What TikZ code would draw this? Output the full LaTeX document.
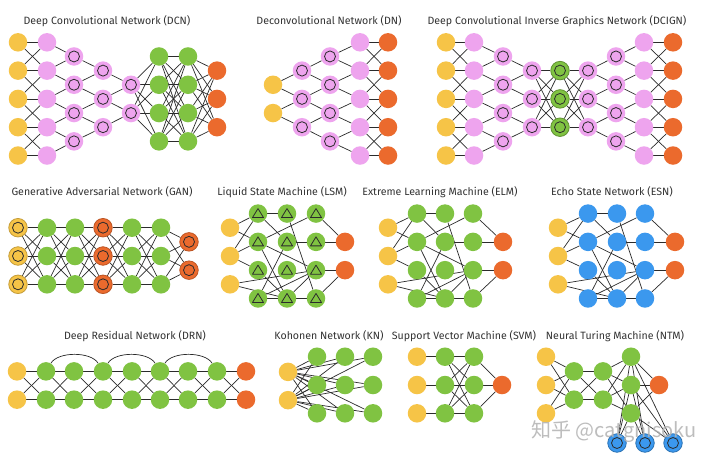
\documentclass[tikz,border=0pt]{standalone}
\usepackage{fontspec}
\setmainfont{Fira Sans}
\newfontfamily\cjkfont{Noto Sans CJK SC}
\usetikzlibrary{backgrounds}
\definecolor{nnyel}{HTML}{F6C447}
\definecolor{nnpnk}{HTML}{EEA4EE}
\definecolor{nngrn}{HTML}{80C342}
\definecolor{nnorg}{HTML}{EB6A2D}
\definecolor{nnblu}{HTML}{3B98EE}
\definecolor{nnedge}{HTML}{2B2B2B}
\tikzset{
  unit/.style={circle,minimum size=18.5pt,inner sep=0pt,draw=none},
  yel/.style={unit,fill=nnyel},
  pnk/.style={unit,fill=nnpnk},
  grn/.style={unit,fill=nngrn},
  org/.style={unit,fill=nnorg},
  blu/.style={unit,fill=nnblu},
  ring/.style={path picture={\draw[nnedge,line width=0.8pt] (path picture bounding box.center) circle (5.5pt);}},
  tri/.style={path picture={\draw[nnedge,line width=0.8pt,line join=round]
    ([shift={(0pt,5pt)}]path picture bounding box.center) -- ([shift={(-5.5pt,-4pt)}]path picture bounding box.center)
    -- ([shift={(5.5pt,-4pt)}]path picture bounding box.center) -- cycle;}},
  conv/.style={pnk,ring},
  edge/.style={nnedge,line width=0.7pt},
  title/.style={font=\fontsize{10.6}{13}\selectfont,text=black!80}
}
% name, x, count, style, middle y
\newcommand\nncol[5]{\foreach \k in {1,...,#3} \node[#4] (#1-\k) at (#2,{#5+28.3*(\k-(#3+1)/2)}) {};}
\newcommand\nnfull[4]{\foreach \i in {1,...,#2} \foreach \j in {1,...,#4} \draw[edge] (#1-\i) -- (#3-\j);}
\newcommand\nncross[3]{\foreach \i in {1,...,#3} \draw[edge] (#1-\i) -- (#2-\i);
  \foreach \i [evaluate=\i as \ip using int(\i-1)] in {2,...,#3} {\draw[edge] (#1-\i) -- (#2-\ip); \draw[edge] (#1-\ip) -- (#2-\i);}}
\newcommand\nnfan[3]{\foreach \i [evaluate=\i as \ii using int(\i+1)] in {1,...,#2} {\draw[edge] (#1-\i) -- (#3-\i); \draw[edge] (#1-\i) -- (#3-\ii);}}
\newcommand\nnres[1]{\foreach \a/\b in {1-1/2-1,1-1/2-2,1-2/2-1,1-2/2-2,1-2/2-3,1-3/4-3,1-3/3-4,2-1/3-1,2-1/3-2,3-1/4-4,4-1/2-2,4-1/5-1,
  2-2/3-4,2-2/4-3,3-2/4-2,3-2/2-4,4-2/5-1,2-3/3-4,4-3/5-2,4-3/2-4,4-3/3-4,2-4/3-4,3-4/4-4,4-4/5-2} \draw[edge] (#1\a) -- (#1\b);}
\begin{document}
\begin{tikzpicture}[x=1pt,y=-1pt]
\begin{scope}[on background layer]\fill[white] (0,0) rectangle (720,464);\end{scope}
\useasboundingbox (0,0) rectangle (720,464);
\node[title] (tdcn) at (107,21) {Deep Convolutional Network (DCN)};
\node[title] (tdn) at (329,21) {Deconvolutional Network (DN)};
\node[title] (tdcign) at (557,21) {Deep Convolutional Inverse Graphics Network (DCIGN)};
\node[title] (tgan) at (102,192) {Generative Adversarial Network (GAN)};
\node[title] (tlsm) at (282,192) {Liquid State Machine (LSM)};
\node[title] (telm) at (440,192) {Extreme Learning Machine (ELM)};
\node[title] (tesn) at (612,192) {Echo State Network (ESN)};
\node[title] (tdrn) at (135,336) {Deep Residual Network (DRN)};
\node[title] (tkn) at (329,336) {Kohonen Network (KN)};
\node[title] (tsvm) at (464,336) {Support Vector Machine (SVM)};
\node[title] (tntm) at (615,336) {Neural Turing Machine (NTM)};
\nncol{a1}{18}{5}{yel}{98.9} \nncol{a2}{47}{5}{pnk}{98.9} \nncol{a3}{74}{4}{conv}{98.9} \nncol{a4}{103}{3}{conv}{98.9}
\nncol{a5}{131}{2}{conv}{98.9} \nncol{a6}{159}{4}{grn}{98.9} \nncol{a7}{188}{4}{grn}{98.9} \nncol{a8}{217}{3}{org}{98.9}
\nncol{b1}{273}{2}{yel}{98.9} \nncol{b2}{302}{3}{conv}{98.9} \nncol{b3}{330}{4}{conv}{98.9} \nncol{b4}{360}{5}{pnk}{98.9} \nncol{b5}{388}{5}{org}{98.9}
\nncol{c1}{446}{5}{yel}{98.9} \nncol{c2}{474}{5}{pnk}{98.9} \nncol{c3}{503}{4}{conv}{98.9} \nncol{c4}{532}{3}{conv}{98.9}
\nncol{c5}{560}{3}{grn,draw=nngrn!75!black,line width=0.8pt,ring}{98.9} \nncol{c6}{588}{3}{conv}{98.9} \nncol{c7}{616}{4}{conv}{98.9}
\nncol{c8}{644}{5}{pnk}{98.9} \nncol{c9}{673}{5}{org}{98.9}
\nncol{d1}{18}{3}{yel,draw=nnyel!80!black,line width=0.8pt,ring}{256} \nncol{d2}{47}{3}{grn}{256} \nncol{d3}{75}{3}{grn}{256}
\nncol{d4}{103}{3}{org,draw=nnorg!80!black,line width=0.8pt,ring}{256} \nncol{d5}{132}{3}{grn}{256} \nncol{d6}{161}{3}{grn}{256}
\nncol{d7}{189}{2}{org,draw=nnorg!80!black,line width=0.8pt,ring}{256}
\nncol{e1}{230}{3}{yel}{256} \nncol{e2}{258}{4}{grn,tri}{256} \nncol{e3}{287}{4}{grn,tri}{256} \nncol{e4}{316}{4}{grn,tri}{256} \nncol{e5}{345}{2}{org}{256}
\nncol{f1}{388}{3}{yel}{256} \nncol{f2}{417}{4}{grn}{256} \nncol{f3}{445}{4}{grn}{256} \nncol{f4}{473}{4}{grn}{256} \nncol{f5}{503}{2}{org}{256}
\nncol{g1}{558}{3}{yel}{256} \nncol{g2}{588}{4}{blu}{256} \nncol{g3}{617}{4}{blu}{256} \nncol{g4}{645}{4}{blu}{256} \nncol{g5}{675}{2}{org}{256}
\nncol{h1}{17}{2}{yel}{385.5} \nncol{h2}{46}{2}{grn}{385.5} \nncol{h3}{74}{2}{grn}{385.5} \nncol{h4}{103}{2}{grn}{385.5} \nncol{h5}{132}{2}{grn}{385.5}
\nncol{h6}{160}{2}{grn}{385.5} \nncol{h7}{188}{2}{grn}{385.5} \nncol{h8}{217}{2}{grn}{385.5} \nncol{h9}{246}{2}{org}{385.5}
\nncol{k1}{288}{2}{yel}{386} \nncol{k2}{317}{3}{grn}{385} \nncol{k3}{345}{3}{grn}{385} \nncol{k4}{373}{3}{grn}{385}
\nncol{s1}{417}{3}{yel}{385} \nncol{s2}{445}{3}{grn}{385} \nncol{s3}{474}{3}{grn}{385} \nncol{s4}{502}{1}{org}{385}
\nncol{n1}{546}{3}{yel}{385} \nncol{n2}{574}{2}{grn}{385.5} \nncol{n3}{603}{2}{grn}{385.5} \nncol{n4}{631}{3}{grn}{385} \nncol{n5}{659}{1}{org}{385}
\node[blu,draw=nnblu!75!black,line width=0.8pt,ring] (n6-1) at (617,443) {};
\node[blu,draw=nnblu!75!black,line width=0.8pt,ring] (n6-2) at (645,443) {};
\node[blu,draw=nnblu!75!black,line width=0.8pt,ring] (n6-3) at (673,443) {};
\begin{scope}[on background layer]
\nncross{a1}{a2}{5} \nnfan{a3}{4}{a2} \nnfan{a4}{3}{a3} \nnfan{a5}{2}{a4} \nnfull{a5}{2}{a6}{4} \nnfull{a6}{4}{a7}{4} \nnfull{a7}{4}{a8}{3}
\nnfan{b1}{2}{b2} \nnfan{b2}{3}{b3} \nnfan{b3}{4}{b4} \nncross{b4}{b5}{5}
\nncross{c1}{c2}{5} \nnfan{c3}{4}{c2} \nnfan{c4}{3}{c3} \nnfull{c4}{3}{c5}{3} \nnfull{c5}{3}{c6}{3} \nnfan{c6}{3}{c7} \nnfan{c7}{4}{c8} \nncross{c8}{c9}{5}
\nnfull{d1}{3}{d2}{3} \nnfull{d2}{3}{d3}{3} \nnfull{d3}{3}{d4}{3} \nnfull{d4}{3}{d5}{3} \nnfull{d5}{3}{d6}{3} \nnfull{d6}{3}{d7}{2}
\nnres{e} \nnres{f} \nnres{g}
\nncross{h1}{h2}{2} \nncross{h2}{h3}{2} \nncross{h3}{h4}{2} \nncross{h4}{h5}{2} \nncross{h5}{h6}{2} \nncross{h6}{h7}{2} \nncross{h7}{h8}{2} \nncross{h8}{h9}{2}
\draw[edge] (h2-1) .. controls +(12,-20) and +(-12,-20) .. (h4-1);
\draw[edge] (h4-1) .. controls +(12,-20) and +(-12,-20) .. (h6-1);
\draw[edge] (h6-1) .. controls +(12,-20) and +(-12,-20) .. (h8-1);
\nnfull{k1}{2}{k2}{3} \nnfull{k1}{2}{k3}{3} \nnfull{k1}{2}{k4}{3}
\foreach \i in {1,2,3} \draw[edge] (s1-\i) -- (s2-\i);
\nnfull{s2}{3}{s3}{3} \nnfull{s3}{3}{s4}{1}
\nnfull{n1}{3}{n2}{2} \nnfull{n2}{2}{n3}{2} \nnfull{n3}{2}{n4}{3} \nnfull{n4}{3}{n5}{1} \nnfull{n4}{3}{n6}{3}
\end{scope}
\node[font=\cjkfont\fontsize{20}{20}\selectfont,text=gray!60,opacity=0.85] (wm) at (614,432) {知乎 @catgnisoku};
\end{tikzpicture}
\end{document}
